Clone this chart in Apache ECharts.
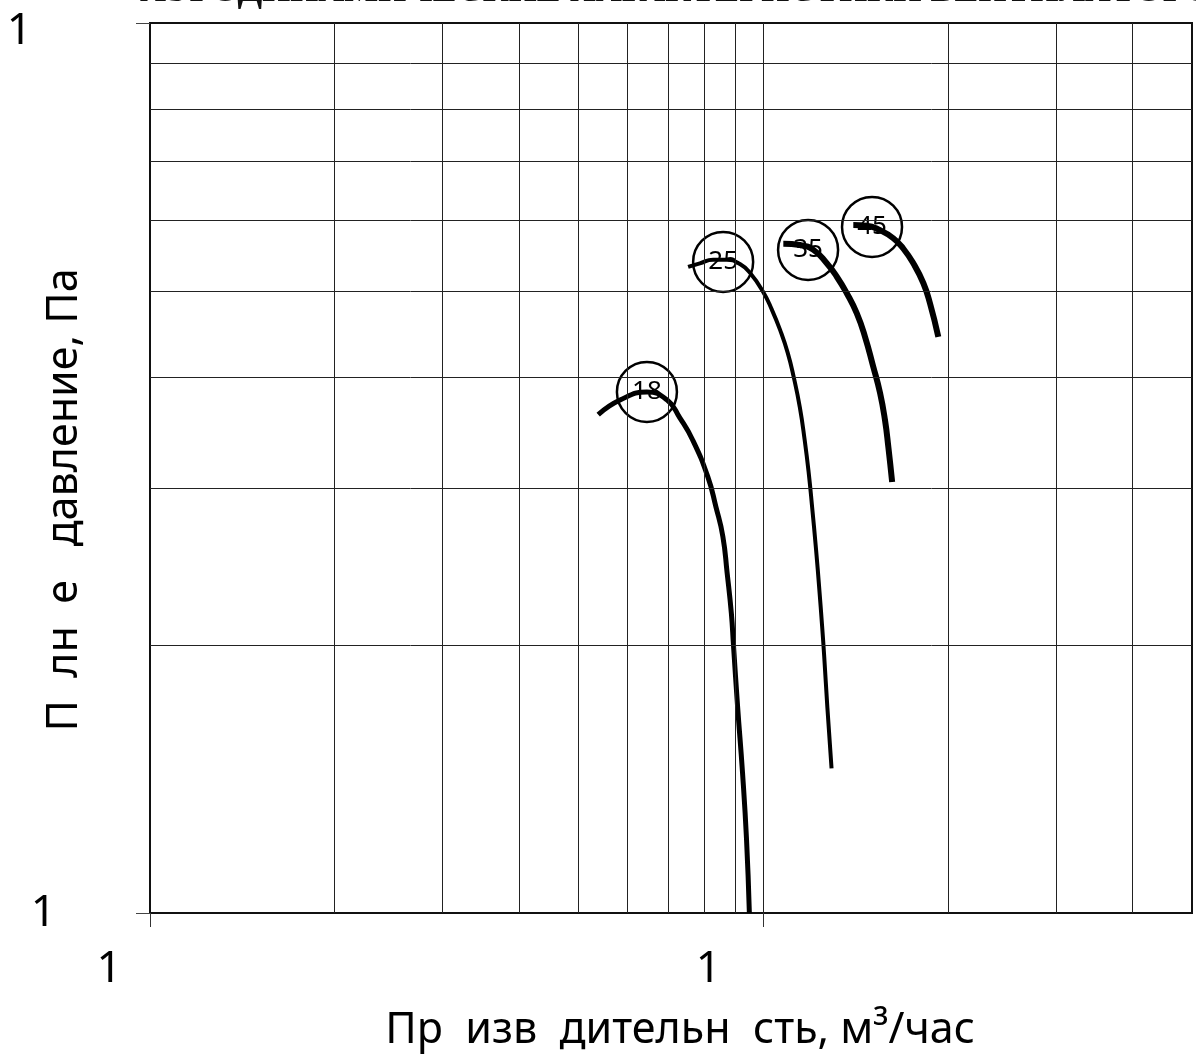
<!DOCTYPE html>
<html>
<head>
<meta charset="utf-8">
<script src="https://cdn.jsdelivr.net/npm/echarts@6/dist/echarts.min.js"></script>
<style>
  html, body { margin: 0; padding: 0; background: #fff; }
  #chart { width: 1196px; height: 1057px; }
</style>
</head>
<body>
<div id="chart"></div>
<script>
// Fan curves: flow [m³/h] vs total pressure [Pa], log-log scales
const fan18 = [[5.38,3.63],[5.84,3.77],[6.46,3.85],[6.97,3.77],[7.31,3.60],[7.67,3.40],[8.12,3.09],[8.37,2.86],[8.59,2.65],[8.73,2.41],[8.87,2.17],[8.94,2.00],[9.08,1.705],[9.25,1.436],[9.39,1.208],[9.49,1.00]];
const fan25 = [[7.54,5.32],[7.88,5.37],[8.28,5.42],[8.72,5.42],[9.16,5.36],[9.51,5.24],[9.99,4.99],[10.33,4.76],[10.65,4.52],[10.96,4.26],[11.21,4.00],[11.47,3.70],[11.68,3.40],[11.86,3.12],[12.01,2.86],[12.19,2.56],[12.34,2.31],[12.47,2.10],[12.57,1.94],[12.72,1.70],[12.92,1.454]];
const fan35 = [[10.78,5.65],[11.48,5.63],[12.07,5.56],[12.69,5.37],[13.17,5.19],[13.68,4.97],[14.20,4.72],[14.65,4.44],[15.11,4.11],[15.50,3.84],[15.79,3.58],[15.99,3.34],[16.22,3.05]];
const fan45 = [[14.02,5.93],[14.74,5.92],[15.50,5.85],[16.29,5.73],[16.91,5.58],[17.56,5.37],[18.24,5.10],[18.70,4.84],[19.29,4.44]];

// Circled size markers placed at each curve's peak
const markerNames = ['18', '25', '35', '45'];
const markerPoints = [[6.46,3.85],[8.60,5.39],[11.83,5.56],[15.04,5.90]];

// Logarithmic grid lines
const gridX = [2,3,4,5,6,7,8,9,10,20,30,40];
const gridY = [2,3,4,5,6,7,8,9];
const tickX = [1, 10];
const tickY = [1, 10];

const titleText = 'АЭРОДИНАМИЧЕСКИЕ ХАРАКТЕРИСТИКИ ВЕНТИЛЯТОРОВ';
const xName = 'Пр  изв  дительн  сть, м³/час';
const yName = 'П  лн  е   давление, Па';

const chart = echarts.init(document.getElementById('chart'), null, { renderer: 'canvas' });

const gridLineStyle = { color: '#222', width: 1, type: 'solid' };

const option = {
  backgroundColor: '#fff',
  animation: false,
  title: {
    text: titleText,
    left: 135,
    top: -31,
    textStyle: { fontFamily: 'Liberation Serif', fontWeight: 'bold', fontSize: 36, color: '#111' }
  },
  grid: {
    left: 150, top: 23, width: 1042, height: 890,
    outerBoundsMode: 'none',
    containLabel: false,
    show: true, borderColor: '#111', borderWidth: 2, backgroundColor: 'transparent'
  },
  xAxis: {
    type: 'log', logBase: 10, min: 1, max: 50,
    name: xName,
    nameLocation: 'middle',
    nameGap: 96,
    nameMoveOverlap: false,
    nameTextStyle: { fontFamily: 'Noto Sans', fontSize: 43, color: '#000', padding: [0, 0, 0, 18] },
    axisLine: { show: true, lineStyle: { color: '#111', width: 2 } },
    axisTick: { show: true, length: 14, inside: false, customValues: tickX, lineStyle: { color: '#333', width: 1 } },
    axisLabel: {
      show: true, customValues: tickX, margin: 34,
      fontFamily: 'Noto Sans', fontSize: 44, color: '#000',
      formatter: v => (Math.abs(v - 10) < 1e-6 ? '{b|1}' : '{a|1}'),
      rich: {
        a: { fontFamily: 'Noto Sans', fontSize: 44, color: '#000', padding: [0, 82, 0, 0] },
        b: { fontFamily: 'Noto Sans', fontSize: 44, color: '#000', padding: [0, 110, 0, 0] }
      }
    },
    splitLine: { show: false }
  },
  yAxis: {
    type: 'log', logBase: 10, min: 1, max: 10,
    name: yName,
    nameLocation: 'middle',
    nameGap: 64,
    nameRotate: 90,
    nameMoveOverlap: false,
    nameTextStyle: { fontFamily: 'Noto Sans', fontSize: 43, color: '#000', padding: [0, 64, 0, 0] },
    axisLine: { show: true, lineStyle: { color: '#111', width: 1 } },
    axisTick: { show: true, length: 14, inside: false, customValues: tickY, lineStyle: { color: '#444', width: 1 } },
    axisLabel: {
      show: true, customValues: tickY, margin: 94,
      fontFamily: 'Noto Sans', fontSize: 44, color: '#000',
      formatter: v => (Math.abs(v - 10) < 1e-6 ? '{b|1}' : '{a|1}'),
      rich: {
        a: { fontFamily: 'Noto Sans', fontSize: 44, color: '#000' },
        b: { fontFamily: 'Noto Sans', fontSize: 44, color: '#000', padding: [16, 24, 0, 0] }
      }
    },
    splitLine: { show: false }
  },
  series: [
    {
      name: 'grid',
      type: 'line',
      data: [],
      silent: true,
      z: 1,
      markLine: {
        silent: true,
        symbol: ['none', 'none'],
        label: { show: false },
        lineStyle: gridLineStyle,
        emphasis: { disabled: true },
        data: gridX.map(v => ({ xAxis: v })).concat(gridY.map(v => ({ yAxis: v })))
      }
    },
    {
      name: 'markers',
      type: 'scatter',
      z: 2,
      symbol: 'circle',
      symbolSize: 60,
      itemStyle: { color: 'rgba(255,255,255,0)', borderColor: '#000', borderWidth: 2.5, opacity: 1 },
      label: {
        show: true, position: 'inside', color: '#000',
        fontFamily: 'Noto Sans', fontSize: 26,
        formatter: p => markerNames[p.dataIndex]
      },
      data: markerPoints
    },
    { name: '18', type: 'line', z: 3, smooth: 0.5, symbol: 'none', data: fan18, lineStyle: { color: '#000', width: 5 } },
    { name: '25', type: 'line', z: 3, smooth: 0.5, symbol: 'none', data: fan25, lineStyle: { color: '#000', width: 4 } },
    { name: '35', type: 'line', z: 3, smooth: 0.5, symbol: 'none', data: fan35, lineStyle: { color: '#000', width: 6 } },
    { name: '45', type: 'line', z: 3, smooth: 0.5, symbol: 'none', data: fan45, lineStyle: { color: '#000', width: 6 } }
  ]
};

chart.setOption(option);
</script>
</body>
</html>
